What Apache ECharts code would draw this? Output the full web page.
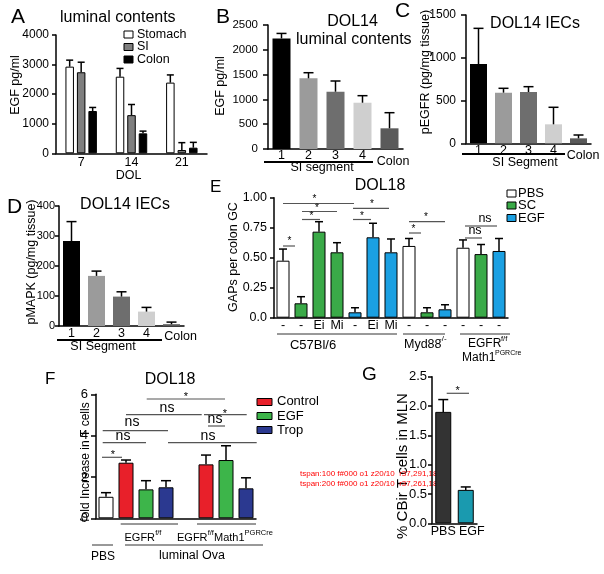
<!DOCTYPE html>
<html><head><meta charset="utf-8">
<script src="https://cdn.jsdelivr.net/npm/echarts@6/dist/echarts.min.js"></script>
<style>html,body{margin:0;padding:0;background:#fff}#c{width:604px;height:574px}</style>
</head><body><div id="c"></div>
<script>
// ---------- DATA ----------
const aCategories = ['7', '14', '21'];
const aSeriesNames = ['Stomach', 'SI', 'Colon'];
const aStomach = [2930, 2590, 2390];
const aStomachErr = [220, 280, 260];
const aSI = [2740, 1290, 110];
const aSIErr = [340, 360, 250];
const aColon = [1430, 675, 190];
const aColonErr = [120, 75, 180];

const bCategories = ['1', '2', '3', '4', 'Colon'];
const bValues = [2230, 1425, 1155, 933, 417];
const bErr = [100, 113, 216, 142, 315];

const cCategories = ['1', '2', '3', '4', 'Colon'];
const cValues = [927, 592, 600, 222, 58];
const cErr = [417, 51, 62, 199, 39];

const dCategories = ['1', '2', '3', '4', 'Colon'];
const dValues = [283, 167, 98, 48, 6];
const dErr = [65, 16, 16, 14, 7];

const eCategories = ['-', '-', 'Ei', 'Mi', '-', 'Ei', 'Mi', '-', '-', '-', '-', '-', '-'];
const eTreatment = ['PBS', 'SC', 'SC', 'SC', 'EGF', 'EGF', 'EGF', 'PBS', 'SC', 'EGF', 'PBS', 'SC', 'EGF'];
const eSeriesNames = ['PBS', 'SC', 'EGF'];
const eValues = [0.475, 0.12, 0.717, 0.545, 0.045, 0.67, 0.545, 0.598, 0.045, 0.07, 0.583, 0.53, 0.556];
const eErr = [0.097, 0.055, 0.083, 0.08, 0.038, 0.117, 0.111, 0.062, 0.038, 0.038, 0.065, 0.08, 0.104];

const fCategories = ['PBS', 'EGFRf/f Control', 'EGFRf/f EGF', 'EGFRf/f Trop', '', 'EGFRf/fMath1PGRCre Control', 'EGFRf/fMath1PGRCre EGF', 'EGFRf/fMath1PGRCre Trop'];
const fTreatment = ['PBS', 'Control', 'EGF', 'Trop', '', 'Control', 'EGF', 'Trop'];
const fSeriesNames = ['PBS', 'Control', 'EGF', 'Trop'];
const fValues = [1.04, 2.69, 1.40, 1.50, null, 2.61, 2.82, 1.45];
const fErr = [0.20, 0.13, 0.42, 0.32, null, 0.45, 0.69, 0.51];

const gCategories = ['PBS', 'EGF'];
const gValues = [1.90, 0.57];
const gErr = [0.21, 0.05];

// ---------- STYLE ----------
const FONT = 'Liberation Sans';
const grayScale = ['#000000', '#9b9b9b', '#6e6e6e', '#cfcfcf', '#5a5a5a'];
const aColors = {Stomach: '#ffffff', SI: '#7f7f7f', Colon: '#000000'};
const eColors = {PBS: '#ffffff', SC: '#3aaa48', EGF: '#1ba0e2'};
const fColors = {PBS: '#ffffff', Control: '#e8202a', EGF: '#3db54a', Trop: '#2b3990'};
const gColors = ['#333333', '#1a9aaf'];

function yAxis(gi, max, interval, fmt, fs, margin, tickLen) {
  return {type: 'value', gridIndex: gi, min: 0, max: max, interval: interval, z: 20,
    axisLine: {show: true, lineStyle: {color: '#000', width: 1.5}},
    axisTick: {show: true, length: tickLen, lineStyle: {color: '#000', width: 1.5}},
    axisLabel: {show: true, color: '#000', fontSize: fs, margin: margin, fontFamily: FONT,
      formatter: fmt || (v => String(v))},
    splitLine: {show: false}};
}
function xAxis(gi, data, opts) {
  const ax = {type: 'category', gridIndex: gi, data: data,
    axisLine: {show: true, onZero: false, lineStyle: {color: '#000', width: 1.5}},
    axisTick: {show: false},
    axisLabel: {color: '#000', fontSize: 12.5, margin: 1, fontFamily: FONT, interval: 0}};
  if (opts) {
    if (opts.labelMargin != null) ax.axisLabel.margin = opts.labelMargin;
    if (opts.showLabel === false) ax.axisLabel.show = false;
    if (opts.fontSize) ax.axisLabel.fontSize = opts.fontSize;
  }
  return ax;
}
function errSeries(idx, vals, errs, offset, cap) {
  return {type: 'custom', xAxisIndex: idx, yAxisIndex: idx, z: 5, silent: true,
    encode: {x: 0, y: 1},
    data: vals.map((v, i) => [i, v, errs[i]]).filter(d => d[1] != null),
    renderItem: function (params, api) {
      const x = api.value(0), y = api.value(1), e = api.value(2);
      const p0 = api.coord([x, y]);
      const p1 = api.coord([x, y + e]);
      const cx = p0[0] + offset;
      const st = {stroke: '#000', lineWidth: 1.5};
      return {type: 'group', children: [
        {type: 'line', shape: {x1: cx, y1: p0[1], x2: cx, y2: p1[1]}, style: st},
        {type: 'line', shape: {x1: cx - cap, y1: p1[1], x2: cx + cap, y2: p1[1]}, style: st}
      ]};
    }};
}
function padLabel(cats, target, pad) {
  return cats.map(c => c === target ? {value: c, textStyle: {padding: pad}} : c);
}

const grids = [
  {left: 56, top: 35, width: 151, height: 118.3},      // A
  {left: 268, top: 25, width: 135, height: 124},        // B
  {left: 466, top: 15, width: 125, height: 128.3},      // C
  {left: 59, top: 206, width: 125, height: 120},        // D
  {left: 274, top: 197.7, width: 234, height: 120},     // E
  {left: 96, top: 394.3, width: 160, height: 124},      // F
  {left: 432, top: 376.7, width: 45, height: 146.6}     // G
].map(g => Object.assign({outerBoundsMode: 'none', containLabel: false}, g));

const xAxes = [
  xAxis(0, aCategories, {labelMargin: 3}),
  xAxis(1, padLabel(bCategories, 'Colon', [6.5, 0, 0, 7]), {labelMargin: 0}),
  xAxis(2, padLabel(cCategories, 'Colon', [4.5, 0, 0, 9]), {labelMargin: 1}),
  xAxis(3, padLabel(dCategories, 'Colon', [3, 0, 0, 18]), {labelMargin: 1.5}),
  xAxis(4, eCategories, {labelMargin: 1.5}),
  xAxis(5, fCategories, {showLabel: false}),
  xAxis(6, padLabel(gCategories, 'EGF', [0, 0, 0, 12]), {labelMargin: 2, fontSize: 12.5})
];
const yAxes = [
  yAxis(0, 4000, 1000, null, 12, 7, 4),
  yAxis(1, 2500, 500, null, 11.5, 10, 5),
  yAxis(2, 1500, 500, null, 12, 10, 5),
  yAxis(3, 400, 100, null, 11, 4, 4),
  yAxis(4, 1, 0.25, v => v === 0 ? '0.0' : v.toFixed(2), 12.5, 7, 4),
  yAxis(5, 6, 2, null, 13, 8, 5),
  yAxis(6, 2.5, 0.5, v => v.toFixed(1), 13, 5, 4)
];

const series = [];
// A
const aVals = [aStomach, aSI, aColon], aErrs = [aStomachErr, aSIErr, aColonErr];
aSeriesNames.forEach((n, k) => {
  series.push({type: 'bar', name: 'A:' + n, xAxisIndex: 0, yAxisIndex: 0, data: aVals[k],
    barWidth: 8.5, barGap: '35%', itemStyle: {color: aColors[n], borderColor: '#000', borderWidth: 1}});
});
aSeriesNames.forEach((n, k) => series.push(errSeries(0, aVals[k], aErrs[k], (k - 1) * 11.5, 3.5)));
// B, C, D
[[bValues, bErr, 18, 1], [cValues, cErr, 17, 2], [dValues, dErr, 17, 3]].forEach(([vals, errs, w, idx]) => {
  series.push({type: 'bar', xAxisIndex: idx, yAxisIndex: idx, data: vals, barWidth: w,
    itemStyle: {color: p => grayScale[p.dataIndex]}});
  series.push(errSeries(idx, vals, errs, 0, 5));
});
// E
eSeriesNames.forEach(n => {
  series.push({type: 'bar', name: 'E:' + n, xAxisIndex: 4, yAxisIndex: 4, barWidth: 13, barGap: '-100%',
    data: eValues.map((v, i) => eTreatment[i] === n ? v : '-'),
    itemStyle: {color: eColors[n], borderColor: '#000', borderWidth: 1}});
});
series.push(errSeries(4, eValues, eErr, 0, 4));
// F
fSeriesNames.forEach(n => {
  series.push({type: 'bar', name: 'F:' + n, xAxisIndex: 5, yAxisIndex: 5, barWidth: 15, barGap: '-100%',
    data: fValues.map((v, i) => fTreatment[i] === n ? v : '-'),
    itemStyle: {color: fColors[n], borderColor: '#000', borderWidth: 1}});
});
series.push(errSeries(5, fValues, fErr, 0, 5));
// G
series.push({type: 'bar', xAxisIndex: 6, yAxisIndex: 6, data: gValues, barWidth: 16,
  itemStyle: {color: p => gColors[p.dataIndex], borderColor: '#000', borderWidth: 1}});
series.push(errSeries(6, gValues, gErr, 0, 5));

// ---------- ANNOTATIONS ----------
const G = [];
function T(x, y, text, size, align, rot) {
  G.push({type: 'text', x: x, y: y, rotation: rot ? Math.PI / 2 : 0, silent: true,
    style: {text: text, fontSize: size, fontFamily: FONT, fill: '#000',
      align: align || 'center', verticalAlign: 'middle'}});
}
function L(x1, y1, x2, y2, w, c) {
  G.push({type: 'line', silent: true, shape: {x1: x1, y1: y1, x2: x2, y2: y2},
    style: {stroke: c || '#000', lineWidth: w || 1}});
}
function R(x, y, w, h, fill) {
  G.push({type: 'rect', silent: true, shape: {x: x, y: y, width: w, height: h},
    style: {fill: fill, stroke: '#000', lineWidth: 1}});
}
const SIG = '#555';
function star(x, y, size) { T(x, y + 2.5, '*', size || 11); }
function ns(x, y, size) { T(x, y - 1, 'ns', size || 13); }

// A
T(11, 17.5, 'A', 21, 'left');
T(60, 18, 'luminal contents', 16, 'left');
aSeriesNames.forEach((n, k) => {
  R(124, [31, 43.5, 56][k], 9, 7, aColors[n]);
  T(137, [34.5, 47, 60][k], n, 12.5, 'left');
});
T(128.5, 176, 'DOL', 12.5);
T(16, 85, 'EGF pg/ml', 12.5, 'center', true);

// B
T(216, 17.5, 'B', 21, 'left');
T(352.5, 22, 'DOL14', 16);
T(296, 40, 'luminal contents', 16, 'left');
T(221, 86, 'EGF pg/ml', 12.5, 'center', true);
L(264, 162, 373, 162, 2);
T(322, 168, 'SI segment', 12.5);

// C
T(395, 11, 'C', 21, 'left');
T(535, 23.5, 'DOL14 IECs', 16);
T(426, 72, 'pEGFR (pg/mg tissue)', 12.5, 'center', true);
L(462, 154, 565, 154, 2);
T(525, 162.5, 'SI Segment', 12.5);

// D
T(7, 207.5, 'D', 21, 'left');
T(125, 205, 'DOL14 IECs', 16);
T(31.5, 262, 'pMAPK (pg/mg tissue)', 12.5, 'center', true);
L(57, 340, 162, 340, 2);
T(103, 346.5, 'SI Segment', 12.5);

// E
T(210, 187, 'E', 17, 'left');
T(380, 186, 'DOL18', 16);
T(234, 257, 'GAPs per colon GC', 12.5, 'center', true);
eSeriesNames.forEach((n, k) => {
  R(507, [190, 202, 214.5][k], 9, 7, eColors[n]);
  T(518, [193.3, 205.5, 218][k], n, 13, 'left');
});
L(277, 334, 397, 334, 1, '#333');
L(403, 334, 445, 334, 1, '#333');
L(460, 334, 510, 334, 1, '#333');
T(313, 345, 'C57Bl/6', 13);
T(404, 345, 'Myd88', 12.5, 'left');
T(439, 338.5, '-/-', 8, 'left');
T(468, 344, 'EGFR', 12, 'left');
T(501, 338.5, 'f/f', 7.5, 'left');
T(462, 358, 'Math1', 12, 'left');
T(495, 353.5, 'PGRCre', 7, 'left');
// E significance
L(283, 246, 295, 246, 1.2, SIG); star(289.5, 238.5, 10);
L(283, 203.5, 354, 203.5, 1.2, SIG); star(314.5, 197, 10);
L(302, 211.5, 337, 211.5, 1.2, SIG); star(317, 206, 10);
L(302, 219.5, 320, 219.5, 1.2, SIG); star(311.5, 213.5, 10);
L(353, 208.3, 389, 208.3, 1.2, SIG); star(372, 201.7, 10);
L(353, 219.5, 371, 219.5, 1.2, SIG); star(362, 213.5, 10);
L(409, 233, 421, 233, 1.2, SIG); star(413.5, 227, 10);
L(409, 221.7, 445, 221.7, 1.2, SIG); star(426, 215, 10);
L(465, 238, 482, 238, 1.2, SIG); ns(475, 232, 12.5);
L(465, 226, 497, 226, 1.2, SIG); ns(485, 219.5, 12.5);

// F
T(45, 379, 'F', 17, 'left');
T(170, 380, 'DOL18', 16);
T(85.5, 462, 'fold Increase in T cells', 12, 'center', true);
['Control', 'EGF', 'Trop'].forEach((n, k) => {
  R(257, [398.5, 412.5, 426.5][k], 15, 7, fColors[n]);
  T(277, [401.7, 416, 430][k], n, 13, 'left');
});
L(120.7, 524, 178, 524, 1, '#333');
L(197, 524, 256, 524, 1, '#333');
T(124.5, 538, 'EGFR', 11, 'left');
T(155.2, 533, 'f/f', 7.5, 'left');
T(177, 538, 'EGFR', 11, 'left');
T(207.7, 533, 'f/f', 7.5, 'left');
T(214, 538, 'Math1', 11, 'left');
T(244.6, 533, 'PGRCre', 7.5, 'left');
L(92, 545, 113, 545, 1, '#333');
T(103, 557, 'PBS', 12);
L(125, 545, 263, 545, 1, '#333');
T(192, 555.5, 'luminal Ova', 12.5);
// F significance
L(102, 457.3, 122, 457.3, 1.2, SIG); star(113, 452, 11);
L(102.7, 442.7, 146, 442.7, 1.2, SIG); ns(123, 437, 14);
L(102.7, 430.7, 168, 430.7, 1.2, SIG); ns(132, 423.5, 14);
L(126, 414.7, 201.7, 414.7, 1.2, SIG); ns(167, 409, 14);
L(146.7, 399, 225, 399, 1.2, SIG); star(186, 394, 11);
L(204, 414.7, 246.7, 414.7, 1.2, SIG); star(225, 411, 11);
L(208, 426, 225, 426, 1.2, SIG); ns(215, 420, 14);
L(168, 442.7, 256.7, 442.7, 1.2, SIG); ns(208, 437, 14);

// G
T(362, 375, 'G', 19, 'left');
T(403, 466, '% CBir T cells in MLN', 15, 'center', true);
L(446.7, 393.3, 469, 393.3, 1.2, SIG); star(457.7, 388, 11);

const option = {
  animation: false,
  backgroundColor: '#fff',
  textStyle: {fontFamily: FONT},
  grid: grids,
  xAxis: xAxes,
  yAxis: yAxes,
  series: series,
  graphic: G
};
const chart = echarts.init(document.getElementById('c'), null, {renderer: 'canvas'});
chart.setOption(option);

// temporary diagnostics in empty bottom-right corner
const lines = [];
try {
  const list = chart.getZr().storage.getDisplayList(true);
  list.forEach(el => {
    if (!el.getBoundingRect) return;
    const r = el.getBoundingRect().clone();
    r.applyTransform(el.getComputedTransform());
    const hit = r.contain(48, 266) || r.contain(48, 296);
    if (hit) {
      let chain = '';
      let p = el.parent;
      while (p) { if (p.clipPath) chain += 'C'; if (p.ignore) chain += 'I'; if (p.invisible) chain += 'V'; p = p.parent; }
      lines.push(el.type + ':' + (el.style && el.style.text != null ? el.style.text : '') + ' f' + (el.style && el.style.fill) + ' o' + (el.style && el.style.opacity) + ' z' + el.z + '/' + el.z2 + (el.clipPath ? ' clip' : '') + ' ' + chain + ' r' + [r.x, r.y, r.width, r.height].map(Math.round).join(','));
    }
  });
} catch (e) { lines.push('ERR ' + e.message); }
chart.setOption({graphic: G.concat(lines.map((s, i) => ({type: 'text', x: 300, y: 470 + i * 10, style: {text: s, fontSize: 8, fill: 'red'}})))});
</script></body></html>
